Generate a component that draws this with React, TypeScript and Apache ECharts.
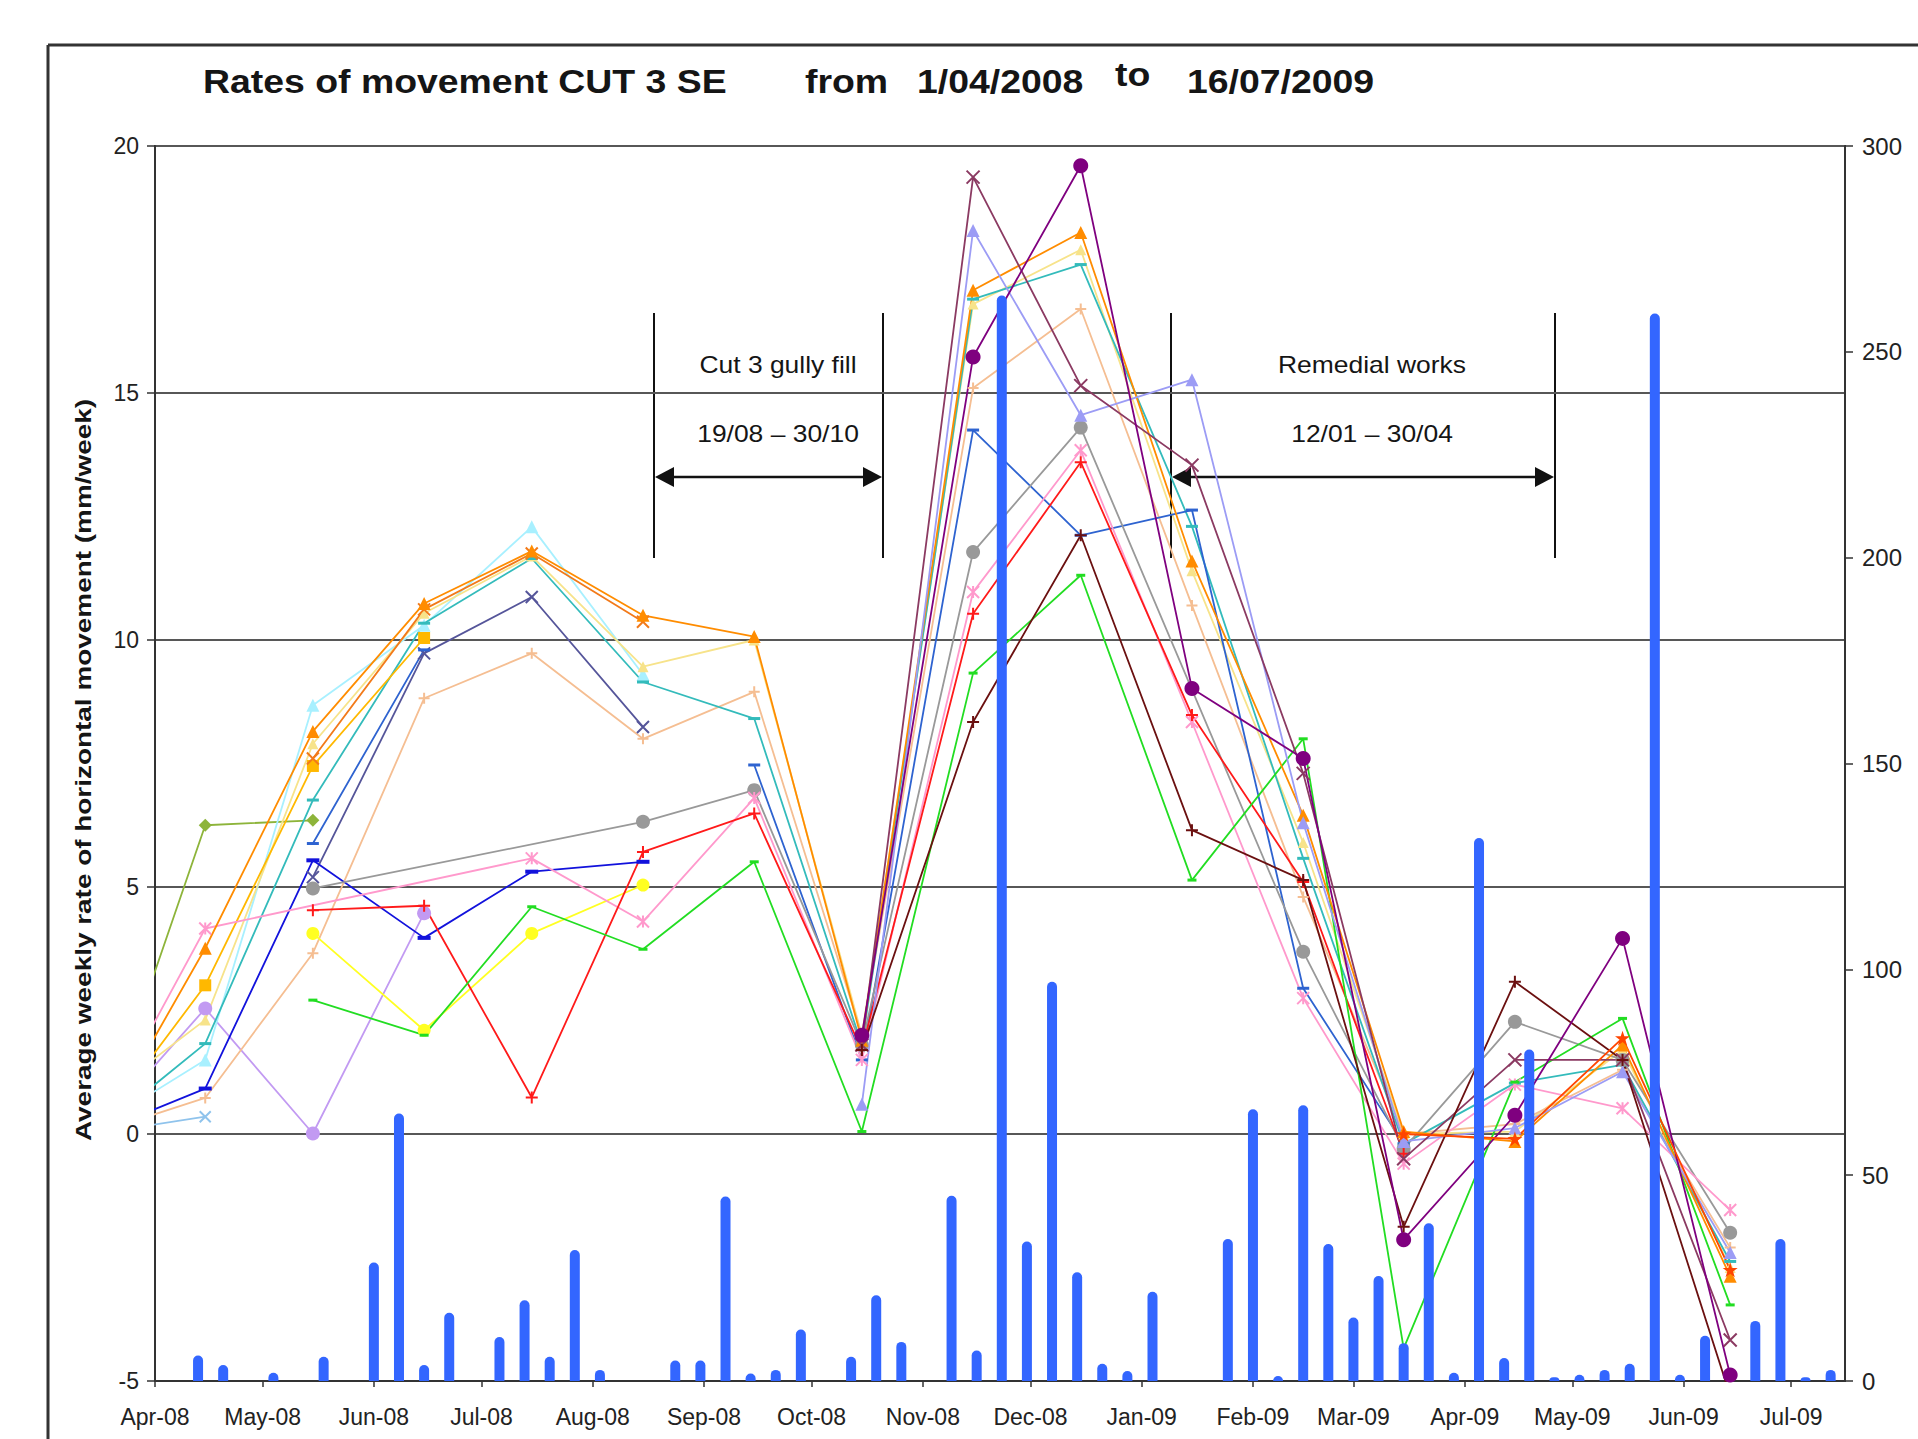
import React, { useEffect, useRef } from 'react';
import * as echarts from 'echarts';

// ---------- DATA ----------
const measureDates = [
  '2008-03-15', '2008-04-15', '2008-05-15', '2008-06-15', '2008-07-15', '2008-08-15',
  '2008-09-15', '2008-10-15', '2008-11-15', '2008-12-15', '2009-01-15', '2009-02-15',
  '2009-03-15', '2009-04-15', '2009-05-15', '2009-06-14',
];

const monthTicks = [
  '2008-04-01', '2008-05-01', '2008-06-01', '2008-07-01', '2008-08-01', '2008-09-01',
  '2008-10-01', '2008-11-01', '2008-12-01', '2009-01-01', '2009-02-01', '2009-03-01',
  '2009-04-01', '2009-05-01', '2009-06-01', '2009-07-01',
];
const monthLabels = [
  'Apr-08', 'May-08', 'Jun-08', 'Jul-08', 'Aug-08', 'Sep-08', 'Oct-08', 'Nov-08',
  'Dec-08', 'Jan-09', 'Feb-09', 'Mar-09', 'Apr-09', 'May-09', 'Jun-09', 'Jul-09',
];

const N = null;
const olive = [-0.3, 6.25, 6.35, N, N, N, N, N, N, N, N, N, N, N, N, N];
const orangeTri = [-0.2, 3.76, 8.15, 10.74, 11.8, 10.5, 10.07, 1.9, 17.08, 18.25, 11.6, 6.45, 0.05, -0.15, 1.8, -2.88];
const orangeX = [N, N, 7.6, 10.62, 11.75, 10.37, N, N, N, N, N, N, N, N, N, N];
const goldSquare = [0.0, 3.01, 7.45, 10.04, N, N, N, N, N, N, N, N, N, N, N, N];
const paleYellow = [0.6, 2.31, 7.9, 10.54, 11.7, 9.46, 10.0, 2.0, 16.8, 17.9, 11.4, 5.9, 0.0, 0.05, 1.7, -2.7];
const lightCyan = [0.1, 1.5, 8.68, 10.3, 12.29, 9.3, N, N, N, N, N, N, N, N, N, N];
const teal = [0.0, 1.83, 6.76, 10.34, 11.65, 9.15, 8.41, 1.8, 16.9, 17.6, 12.3, 5.58, -0.2, 1.03, 1.4, -2.58];
const navyX = [N, N, 5.2, 9.73, 10.87, 8.24, N, N, N, N, N, N, N, N, N, N];
const peach = [0.0, 0.73, 3.66, 8.82, 9.73, 8.0, 8.95, 2.0, 15.1, 16.7, 10.7, 4.8, 0.0, 0.2, 1.3, -2.3];
const grey = [N, N, 4.97, N, N, 6.32, 6.96, 1.8, 11.78, 14.3, N, 3.69, -0.3, 2.27, 1.5, -2.0];
const pink = [0.0, 4.16, N, N, 5.58, 4.3, 6.8, 1.5, 10.97, 13.84, 8.34, 2.75, -0.6, 1.0, 0.52, -1.54];
const lilac = [0.0, 2.54, 0.01, 4.47, N, N, N, N, N, N, N, N, N, N, N, N];
const lightBlueX = [0.0, 0.35, N, N, N, N, N, N, N, N, N, N, N, N, N, N];
const blue = [0.0, 0.92, 5.54, 3.97, 5.31, 5.51, N, N, N, N, N, N, N, N, N, N];
const royal = [N, N, 5.88, 9.8, N, N, 7.47, 1.5, 14.25, 12.12, 12.63, 2.95, -0.2, N, N, N];
const red = [N, N, 4.53, 4.62, 0.74, 5.71, 6.49, 1.7, 10.53, 13.6, 8.48, 5.1, -0.4, N, N, N];
const yellowCircle = [N, N, 4.06, 2.1, 4.06, 5.04, N, N, N, N, N, N, N, N, N, N];
const green = [N, N, 2.71, 2.0, 4.6, 3.74, 5.51, 0.05, 9.33, 11.31, 5.14, 8.0, -4.34, 1.05, 2.34, -3.46];
const lavender = [N, N, N, N, N, N, N, 0.6, 18.29, 14.55, 15.27, 6.3, -0.15, 0.12, 1.26, -2.4];
const maroonX = [N, N, N, N, N, N, N, 1.8, 19.37, 15.15, 13.54, 7.3, -0.5, 1.5, 1.5, -4.17];
const purple = [N, N, N, N, N, N, N, 2.0, 15.73, 19.6, 9.02, 7.6, -2.14, 0.38, 3.96, -4.88];
const maroonPlus = [N, N, N, N, N, N, N, 1.7, 8.34, 12.12, 6.15, 5.14, -1.88, 3.08, 1.5, -5.3];
const orangeStar = [N, N, N, N, N, N, N, N, N, N, N, N, 0.0, -0.1, 1.94, -2.75];

// weekly rainfall (mm), first week ending 13/04/2008
const rainFirstWeek = '2008-04-13';
const rainWeekly = [
  6.2, 3.9, 0, 2, 0, 5.9, 0, 28.8, 65, 3.9, 16.6, 0, 10.7, 19.6, 5.9, 31.8, 2.7, 0, 0, 5,
  5, 44.8, 1.8, 2.7, 12.5, 0, 5.9, 20.8, 9.5, 0, 45, 7.4, 263.7, 33.9, 97, 26.4, 4.2, 2.4,
  21.7, 0, 0, 34.5, 66, 1.2, 67, 33.3, 15.4, 25.5, 9.2, 38.3, 2, 131.9, 5.6, 80.5, 0.9, 1.5,
  2.7, 4.2, 259.3, 1.5, 11, 0, 14.6, 34.5, 0.9, 2.7,
];

const leftTicks = { min: -5, max: 20, step: 5 };
const rightTicks = { min: 0, max: 300, step: 50 };

// ---------- HELPERS ----------
const FONT = '"Liberation Sans", Arial, Helvetica, sans-serif';
function ts(s: string) {
  const [y, m, d] = s.split('-').map(Number);
  return new Date(y, m - 1, d).getTime();
}
const SYM_X = 'path://M0,0L10,10M10,0L0,10';
const SYM_PLUS = 'path://M5,0L5,10M0,5L10,5';
const SYM_AST = 'path://M5,0L5,10M0,0L10,10M10,0L0,10';
const SYM_STAR = 'path://M5,0L6.2,3.6L10,3.6L6.9,5.8L8.1,9.5L5,7.2L1.9,9.5L3.1,5.8L0,3.6L3.8,3.6Z';

type Def = { name: string; values: (number | null)[]; color: string; symbol: string; size: number | number[]; stroke?: boolean; connect?: boolean; width?: number };

const defs: Def[] = [
  { name: 'olive', values: olive, color: '#8DB43A', symbol: 'diamond', size: 13 },
  { name: 'lightBlueX', values: lightBlueX, color: '#8FC3EC', symbol: SYM_X, size: 11, stroke: true },
  { name: 'lilac', values: lilac, color: '#C29AF2', symbol: 'circle', size: 14 },
  { name: 'lightCyan', values: lightCyan, color: '#A8F0FF', symbol: 'triangle', size: 13 },
  { name: 'paleYellow', values: paleYellow, color: '#F7E38A', symbol: 'triangle', size: 11 },
  { name: 'peach', values: peach, color: '#F5BE92', symbol: SYM_PLUS, size: 11, stroke: true },
  { name: 'teal', values: teal, color: '#33BBBB', symbol: 'rect', size: [12, 3] },
  { name: 'goldSquare', values: goldSquare, color: '#FFB800', symbol: 'rect', size: 12 },
  { name: 'orangeX', values: orangeX, color: '#F27A1A', symbol: SYM_X, size: 12, stroke: true },
  { name: 'navyX', values: navyX, color: '#55559A', symbol: SYM_X, size: 12, stroke: true },
  { name: 'yellowCircle', values: yellowCircle, color: '#FFFF22', symbol: 'circle', size: 13 },
  { name: 'blue', values: blue, color: '#1212DC', symbol: 'rect', size: [13, 4] },
  { name: 'royal', values: royal, color: '#2E63D0', symbol: 'rect', size: [12, 3] },
  { name: 'grey', values: grey, color: '#999999', symbol: 'circle', size: 14, connect: true },
  { name: 'pink', values: pink, color: '#FF99CC', symbol: SYM_AST, size: 12, stroke: true, connect: true },
  { name: 'red', values: red, color: '#FF1A1A', symbol: SYM_PLUS, size: 12, stroke: true },
  { name: 'green', values: green, color: '#22DD22', symbol: 'rect', size: [9, 3] },
  { name: 'orangeTri', values: orangeTri, color: '#FF8C00', symbol: 'triangle', size: 13 },
  { name: 'lavender', values: lavender, color: '#9C9CF5', symbol: 'triangle', size: 13 },
  { name: 'maroonX', values: maroonX, color: '#8B3A62', symbol: SYM_X, size: 13, stroke: true },
  { name: 'maroonPlus', values: maroonPlus, color: '#6B1010', symbol: SYM_PLUS, size: 12, stroke: true },
  { name: 'purple', values: purple, color: '#7F007F', symbol: 'circle', size: 15 },
  { name: 'orangeStar', values: orangeStar, color: '#FF4500', symbol: SYM_STAR, size: 15 },
];

function buildOption() {
  const lineSeries = defs.map((d) => ({
    type: 'line',
    name: d.name,
    yAxisIndex: 0,
    data: measureDates.map((dt, i) => [ts(dt), d.values[i] === null ? '-' : d.values[i]]),
    connectNulls: !!d.connect,
    symbol: d.symbol,
    symbolSize: d.size,
    showSymbol: true,
    showAllSymbol: true,
    clip: true,
    silent: true,
    z: 2,
    lineStyle: { color: d.color, width: d.width ?? 1.8 },
    itemStyle: { color: d.color, borderColor: d.color, borderWidth: d.stroke ? 2 : 0 },
    emphasis: { disabled: true },
  }));

  const rainStart = ts(rainFirstWeek);
  const rainData = rainWeekly.map((v, k) => {
    const dt = new Date(rainStart);
    dt.setDate(dt.getDate() + 7 * k);
    return [dt.getTime(), v];
  });

  const tickTs = monthTicks.map(ts);
  const labelFor = (v: number) => {
    const i = tickTs.findIndex((t) => Math.abs(t - v) < 43200000);
    return i >= 0 ? monthLabels[i] : '';
  };

  const axisColor = '#333';
  const txt = (text: string, x: number, y: number, size: number, weight: string, align: string, extra: any = {}) => ({
    type: 'text',
    x,
    y,
    scaleX: extra.scaleX ?? 1.1,
    rotation: extra.rotation ?? 0,
    silent: true,
    style: {
      text,
      fill: '#151515',
      fontSize: size,
      fontWeight: weight,
      fontFamily: FONT,
      align,
      textAlign: align,
      verticalAlign: 'middle',
      textVerticalAlign: 'middle',
    },
  });
  const vline = (x: number) => ({
    type: 'line', silent: true,
    shape: { x1: x, y1: 313, x2: x, y2: 558 },
    style: { stroke: '#111', lineWidth: 2 },
  });
  const arrow = (x1: number, x2: number, y: number) => [
    { type: 'line', silent: true, shape: { x1: x1 + 10, y1: y, x2: x2 - 10, y2: y }, style: { stroke: '#111', lineWidth: 2.5 } },
    { type: 'polygon', silent: true, shape: { points: [[x1, y], [x1 + 19, y - 10], [x1 + 19, y + 10]] }, style: { fill: '#111' } },
    { type: 'polygon', silent: true, shape: { points: [[x2, y], [x2 - 19, y - 10], [x2 - 19, y + 10]] }, style: { fill: '#111' } },
  ];

  return {
    animation: false,
    backgroundColor: '#ffffff',
    grid: { left: 155, right: 73, top: 146, bottom: 58, show: true, borderColor: '#333', borderWidth: 2, backgroundColor: 'transparent' },
    xAxis: {
      type: 'value',
      min: ts('2008-04-01'),
      max: ts('2009-07-16'),
      axisLine: { show: true, onZero: false, lineStyle: { color: axisColor, width: 2 } },
      axisTick: { show: true, customValues: tickTs, length: 6, lineStyle: { color: axisColor, width: 1.5 } },
      axisLabel: {
        customValues: tickTs,
        formatter: (v: number) => labelFor(v),
        fontSize: 23,
        fontFamily: FONT,
        color: '#222',
        margin: 24,
        hideOverlap: false,
      },
      splitLine: { show: false },
    },
    yAxis: [
      {
        type: 'value',
        min: leftTicks.min,
        max: leftTicks.max,
        interval: leftTicks.step,
        axisLine: { show: true, lineStyle: { color: axisColor, width: 2 } },
        axisTick: { show: true, inside: false, length: 8, lineStyle: { color: axisColor, width: 1.5 } },
        axisLabel: { fontSize: 23, fontFamily: FONT, color: '#222', margin: 16 },
        splitLine: { show: true, lineStyle: { color: '#575757', width: 2 } },
      },
      {
        type: 'value',
        position: 'right',
        min: rightTicks.min,
        max: rightTicks.max,
        interval: rightTicks.step,
        axisLine: { show: true, lineStyle: { color: axisColor, width: 2 } },
        axisTick: { show: true, inside: false, length: 8, lineStyle: { color: axisColor, width: 1.5 } },
        axisLabel: { fontSize: 24, fontFamily: FONT, color: '#222', margin: 17 },
        splitLine: { show: false },
      },
    ],
    series: [
      ...lineSeries,
      {
        type: 'bar',
        name: 'rain',
        yAxisIndex: 1,
        data: rainData,
        barWidth: 10,
        silent: true,
        z: 4,
        itemStyle: { color: '#3366FF', borderRadius: [5, 5, 0, 0] },
        emphasis: { disabled: true },
      },
    ],
    graphic: [
      { type: 'line', silent: true, shape: { x1: 48, y1: 45, x2: 1918, y2: 45 }, style: { stroke: '#333', lineWidth: 3 } },
      { type: 'line', silent: true, shape: { x1: 48, y1: 45, x2: 48, y2: 1439 }, style: { stroke: '#333', lineWidth: 3 } },
      txt('Rates of movement CUT 3 SE', 203, 82, 34, 'bold', 'left'),
      txt('from', 805, 82, 34, 'bold', 'left'),
      txt('1/04/2008', 917, 82, 34, 'bold', 'left'),
      txt('to', 1115, 75, 34, 'bold', 'left'),
      txt('16/07/2009', 1187, 82, 34, 'bold', 'left'),
      txt('Average weekly rate of horizontal movement (mm/week)', 83, 770, 22, 'bold', 'center', { rotation: Math.PI / 2, scaleX: 1.27 }),
      txt('Cut 3 gully fill', 778, 365, 23, 'normal', 'center', { scaleX: 1.15 }),
      txt('19/08 \u2013 30/10', 778, 434, 23, 'normal', 'center', { scaleX: 1.15 }),
      txt('Remedial works', 1372, 365, 23, 'normal', 'center', { scaleX: 1.15 }),
      txt('12/01 \u2013 30/04', 1372, 434, 23, 'normal', 'center', { scaleX: 1.15 }),
      vline(654), vline(883), vline(1171), vline(1555),
      ...arrow(655, 882, 477),
      ...arrow(1172, 1554, 477),
    ],
  };
}

export default function App() {
  const ref = useRef<HTMLDivElement>(null);
  useEffect(() => {
    if (!ref.current) return;
    const chart = echarts.init(ref.current, null, { renderer: 'svg' });
    chart.setOption(buildOption() as any);
    return () => chart.dispose();
  }, []);
  return (
    <div
      ref={ref}
      style={{ position: 'fixed', left: 0, top: 0, width: '1918px', height: '1439px', background: '#fff' }}
    />
  );
}
